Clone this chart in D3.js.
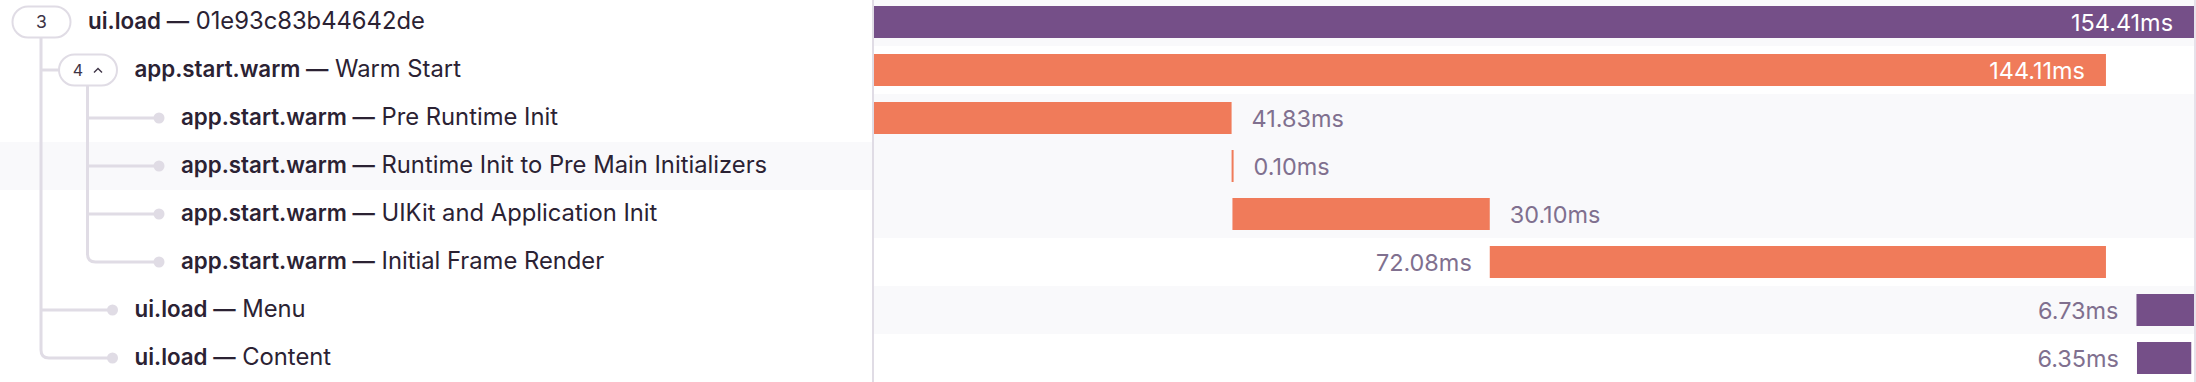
<!DOCTYPE html>
<html>
<head>
<meta charset="utf-8">
<script src="https://cdn.jsdelivr.net/npm/d3@7"></script>
<style>
html,body{margin:0;padding:0;background:#fff;overflow:hidden}
svg{display:block}
</style>
</head>
<body>
<svg id="chart" width="2196" height="382"></svg>
<script>
// ---- data ----
const spanOps = ["ui.load","app.start.warm","app.start.warm","app.start.warm","app.start.warm","app.start.warm","ui.load","ui.load"];
const spanDescriptions = ["01e93c83b44642de","Warm Start","Pre Runtime Init","Runtime Init to Pre Main Initializers","UIKit and Application Init","Initial Frame Render","Menu","Content"];
const spanParents = [-1,0,1,1,1,1,0,0];
const spanDepths = [0,1,2,2,2,2,1,1];
const childCounts = [3,4,0,0,0,0,0,0];
const expanded = [false,true,false,false,false,false,false,false];
const startMs = [0,0,0,41.83,41.93,72.03,147.68,147.74];
const durationMs = [154.41,144.11,41.83,0.10,30.10,72.08,6.73,6.35];
const durationLabels = ["154.41ms","144.11ms","41.83ms","0.10ms","30.10ms","72.08ms","6.73ms","6.35ms"];
const labelPlacement = ["inside","inside","right","right","right","left","left","left"];
const opColors = {"ui.load":"#754F88","app.start.warm":"#F07B5A"};
const traceDurationMs = 154.41;
const hoveredRow = 3;

// ---- layout ----
const W = 2196, H = 382;
const FONT = "Inter, 'Noto Sans', sans-serif";
const svg = d3.select("#chart");
const n = spanOps.length;
const dividerX = 873;

const row = d3.scaleBand().domain(d3.range(n)).range([-2, -2 + n * 48]).padding(0);
const rowH = row.bandwidth();
const barH = 32;
const x = d3.scaleLinear().domain([0, traceDurationMs]).range([874, 2194]);
const indent = d3.scaleLinear().domain([0, 1]).range([41, 87.5]);
const cy = i => row(i) + rowH / 2;

function fitSize(str, weight, target) {
  const t = svg.append("text").attr("font-family", FONT).attr("font-size", 100)
    .attr("font-weight", weight).text(str);
  const w = t.node().getComputedTextLength();
  t.remove();
  return 100 * target / w;
}
const regSize = fitSize("Runtime Init to Pre Main Initializers", 400, 386);
const boldSize = fitSize("app.start.warm", 600, 166);
const durSize = fitSize("154.41ms", 400, 102);

// ---- backgrounds ----
const rows = d3.range(n);
svg.append("g").selectAll("rect").data(rows.filter(i => i % 2 === 0 || i === hoveredRow))
  .join("rect")
  .attr("x", x(0)).attr("y", i => row(i)).attr("width", x.range()[1] - x(0)).attr("height", rowH)
  .attr("fill", "#f9f9fb");
svg.append("rect").attr("x", 0).attr("y", row(hoveredRow)).attr("width", dividerX)
  .attr("height", rowH).attr("fill", "#f9f9fb");

svg.append("line").attr("x1", dividerX).attr("x2", dividerX).attr("y1", 0).attr("y2", H)
  .attr("stroke", "#e0dce5").attr("stroke-width", 2);
svg.append("line").attr("x1", 2195).attr("x2", 2195).attr("y1", 0).attr("y2", H)
  .attr("stroke", "#e6e2ea").attr("stroke-width", 2);

// ---- tree connectors ----
const lineColor = "#e0dce5";
const pillH = 31;
const pillLeft = i => indent(spanDepths[i]) - 28.5;
const pillRight = i => indent(spanDepths[i]) + 29.5;
const textX = i => indent(spanDepths[i]) + 47;
const dotX = i => textX(i) - 22;
const tree = svg.append("g");
rows.forEach(p => {
  const kids = rows.filter(k => spanParents[k] === p);
  if (!kids.length) return;
  const x0 = indent(spanDepths[p]);
  const last = kids[kids.length - 1];
  const r = 8;
  kids.forEach(k => {
    const endX = childCounts[k] > 0 ? pillLeft(k) : dotX(k);
    if (k === last) {
      tree.append("path")
        .attr("d", `M${x0},${cy(p) + pillH / 2}V${cy(k) - r}Q${x0},${cy(k)} ${x0 + r},${cy(k)}H${endX}`)
        .attr("fill", "none").attr("stroke", lineColor).attr("stroke-width", 3);
    } else {
      tree.append("line").attr("x1", x0).attr("x2", endX).attr("y1", cy(k)).attr("y2", cy(k))
        .attr("stroke", lineColor).attr("stroke-width", 3);
    }
  });
});
// leaf dots
tree.selectAll("circle").data(rows.filter(i => childCounts[i] === 0)).join("circle")
  .attr("cx", dotX).attr("cy", cy).attr("r", 5.5).attr("fill", lineColor);

// pills
const pills = svg.append("g").selectAll("g").data(rows.filter(i => childCounts[i] > 0)).join("g");
pills.append("rect")
  .attr("x", pillLeft).attr("y", i => cy(i) - pillH / 2)
  .attr("width", i => pillRight(i) - pillLeft(i)).attr("height", pillH)
  .attr("rx", pillH / 2).attr("fill", "#fff").attr("stroke", lineColor).attr("stroke-width", 2);
pills.append("text")
  .attr("x", i => expanded[i] ? indent(spanDepths[i]) - 9.5 : indent(spanDepths[i]) + 0.5)
  .attr("y", cy).attr("dy", "0.37em").attr("text-anchor", "middle")
  .attr("font-family", FONT).attr("font-size", i => expanded[i] ? 16 : 17.5).attr("fill", "#3e3446")
  .text(i => childCounts[i]);
pills.filter(i => expanded[i]).append("path")
  .attr("d", i => { const cx = indent(spanDepths[i]) + 10.5, c = cy(i); return `M${cx - 4},${c + 2.5}L${cx},${c - 1.5}L${cx + 4},${c + 2.5}`; })
  .attr("fill", "none").attr("stroke", "#3e3446").attr("stroke-width", 1.4);

// labels
const labels = svg.append("g").selectAll("text").data(rows).join("text")
  .attr("x", textX).attr("y", i => cy(i) + 1).attr("dy", "0.37em")
  .attr("font-family", FONT).attr("fill", "#2b2233");
labels.append("tspan").attr("font-weight", 600).attr("font-size", boldSize)
  .text(i => spanOps[i] + " \u2014");
labels.append("tspan").attr("font-weight", 400).attr("font-size", regSize)
  .text(i => " " + spanDescriptions[i]);

// ---- bars ----
const bars = svg.append("g");
bars.selectAll("rect").data(rows).join("rect")
  .attr("x", i => x(startMs[i]))
  .attr("y", i => cy(i) - barH / 2)
  .attr("width", i => Math.max(2, x(startMs[i] + durationMs[i]) - x(startMs[i])))
  .attr("height", barH)
  .attr("fill", i => opColors[spanOps[i]]);

bars.selectAll("text").data(rows).join("text")
  .attr("x", i => {
    const s = x(startMs[i]), e = x(startMs[i]) + Math.max(2, x(startMs[i] + durationMs[i]) - x(startMs[i]));
    if (labelPlacement[i] === "inside") return e - 21;
    if (labelPlacement[i] === "right") return e + 20;
    return s - 18;
  })
  .attr("y", i => cy(i) + 0.5).attr("dy", "0.36em")
  .attr("text-anchor", i => labelPlacement[i] === "right" ? "start" : "end")
  .attr("font-family", FONT).attr("font-size", durSize)
  .attr("fill", i => labelPlacement[i] === "inside" ? "#ffffff" : "#80708f")
  .text(i => durationLabels[i]);
</script>
</body>
</html>
